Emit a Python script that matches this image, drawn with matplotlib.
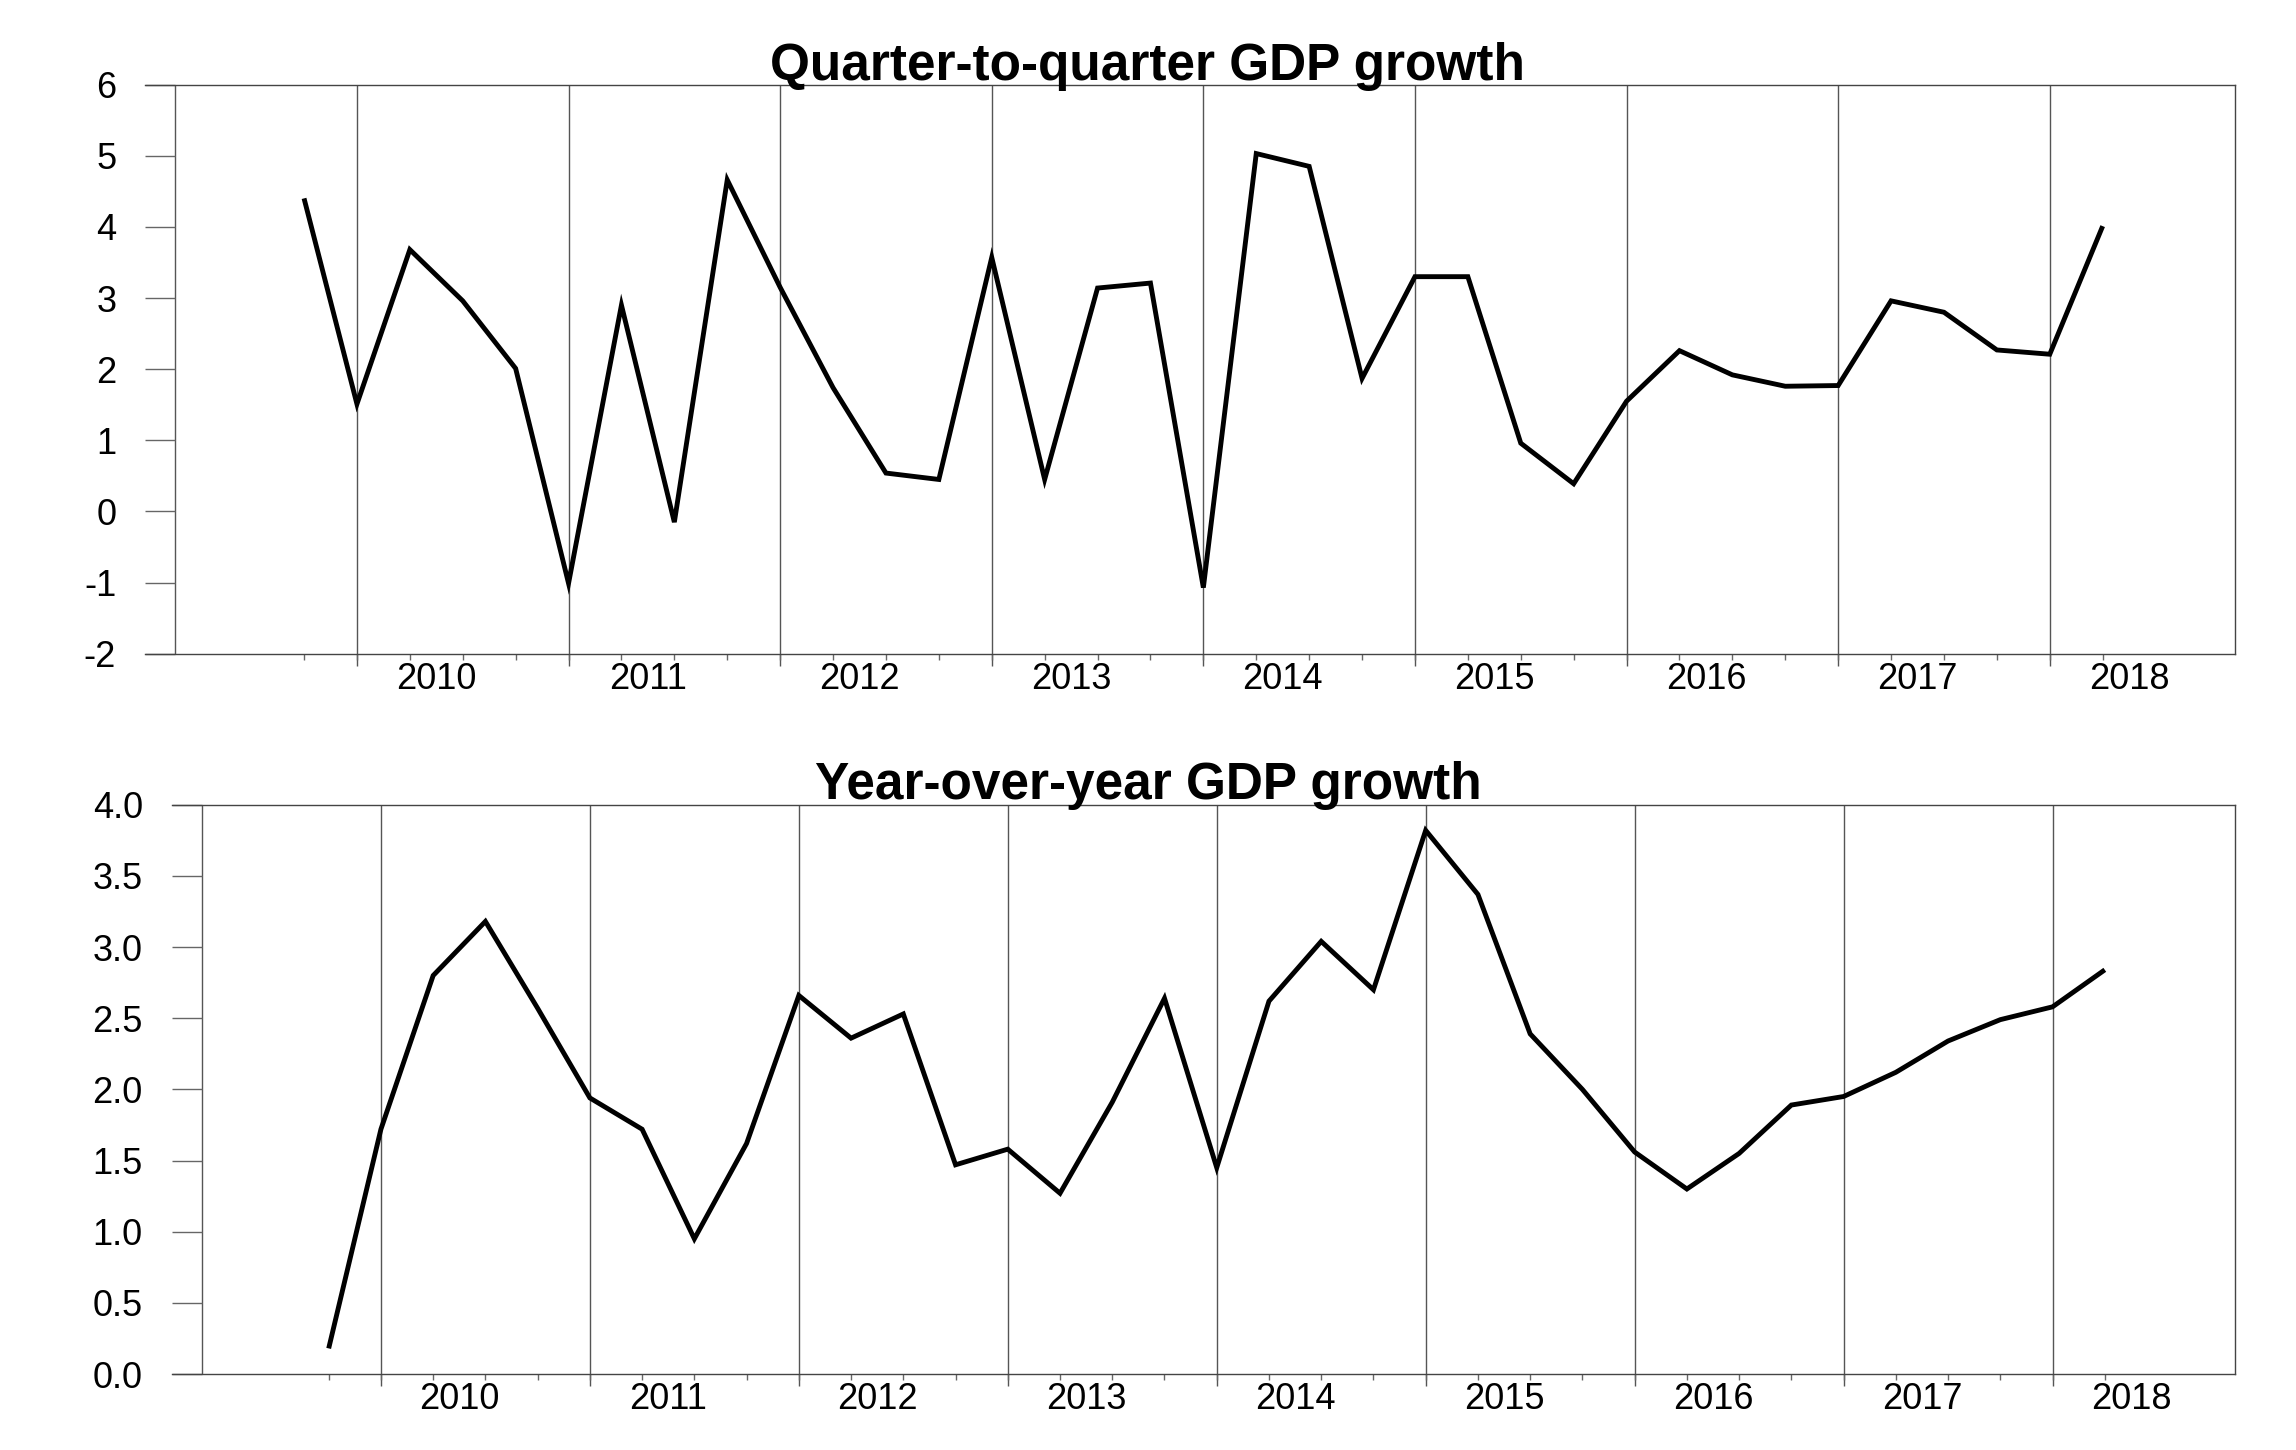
import numpy as np
import matplotlib
matplotlib.use('Agg')
import matplotlib.pyplot as plt
import matplotlib.transforms as mtransforms

plt.rcParams['font.family'] = ['Liberation Sans', 'DejaVu Sans']
plt.rcParams['axes.unicode_minus'] = False

# Quarterly observations, 2009Q4 .. 2018Q2
quarters = ['2009Q4',
            '2010Q1', '2010Q2', '2010Q3', '2010Q4',
            '2011Q1', '2011Q2', '2011Q3', '2011Q4',
            '2012Q1', '2012Q2', '2012Q3', '2012Q4',
            '2013Q1', '2013Q2', '2013Q3', '2013Q4',
            '2014Q1', '2014Q2', '2014Q3', '2014Q4',
            '2015Q1', '2015Q2', '2015Q3', '2015Q4',
            '2016Q1', '2016Q2', '2016Q3', '2016Q4',
            '2017Q1', '2017Q2', '2017Q3', '2017Q4',
            '2018Q1', '2018Q2']

qoq_growth = [4.40, 1.51, 3.68, 2.96, 2.01, -1.01, 2.90, -0.15, 4.66, 3.15,
              1.74, 0.54, 0.45, 3.57, 0.45, 3.14, 3.21, -1.07, 5.03, 4.85,
              1.87, 3.30, 3.30, 0.96, 0.39, 1.55, 2.26, 1.92, 1.76, 1.77,
              2.96, 2.80, 2.27, 2.21, 4.01]

yoy_growth = [0.18, 1.72, 2.80, 3.18, 2.57, 1.94, 1.72, 0.95, 1.62, 2.66,
              2.36, 2.53, 1.47, 1.58, 1.27, 1.91, 2.64, 1.45, 2.62, 3.04,
              2.70, 3.82, 3.37, 2.39, 2.00, 1.56, 1.30, 1.55, 1.89, 1.95,
              2.12, 2.34, 2.49, 2.58, 2.84]

years = ['2010', '2011', '2012', '2013', '2014', '2015', '2016', '2017', '2018']

x = np.arange(len(quarters))
q1_pos = [i for i, q in enumerate(quarters) if q.endswith('Q1')]
label_pos = [p + 1.5 for p in q1_pos]

fig = plt.figure(figsize=(22.96, 14.5), dpi=100)
ax1 = fig.add_axes([0.0633, 0.5491, 0.9101, 0.3926])
ax2 = fig.add_axes([0.0749, 0.0524, 0.8987, 0.3926])

panels = [
    (ax1, qoq_growth, (-2, 6), np.arange(-2, 7, 1), '%d'),
    (ax2, yoy_growth, (0, 4), np.arange(0, 4.01, 0.5), '%.1f'),
]

for ax, vals, ylim, yt, fmt in panels:
    ax.plot(x, vals, color='black', lw=3.5, solid_joinstyle='miter',
            solid_capstyle='butt', zorder=3)
    ax.set_xlim(-3, 36.5)
    ax.set_ylim(*ylim)

    for s in ['top', 'bottom', 'right']:
        ax.spines[s].set_color('#444444')
        ax.spines[s].set_linewidth(1.0)
    ax.spines['left'].set_visible(False)

    # year boundary lines, running a bit below the axis
    trans = mtransforms.blended_transform_factory(ax.transData, ax.transAxes)
    ax.vlines(q1_pos, -0.021, 1, transform=trans, color='#555555', lw=1.0,
              clip_on=False, zorder=1)
    ax.axvline(-2.43, color='#555555', lw=1.0, zorder=1)

    ax.set_yticks(yt)
    ax.set_yticklabels([fmt % v for v in yt])
    ax.tick_params(axis='y', direction='in', length=21.6, width=1.0,
                   color='#666666', labelsize=26, pad=21, left=True, right=False)

    ax.set_xticks(label_pos)
    ax.set_xticklabels(years)
    ax.set_xticks(x, minor=True)
    ax.tick_params(axis='x', which='major', length=0, labelsize=26, pad=6)
    ax.tick_params(axis='x', which='minor', direction='out', length=4.3,
                   width=1.0, color='#666666')

fig.text(0.5, 1 - 80 / 1450, 'Quarter-to-quarter GDP growth', ha='center',
         va='baseline', fontsize=37, fontweight='bold')
fig.text(0.5, 1 - 799 / 1450, 'Year-over-year GDP growth', ha='center',
         va='baseline', fontsize=37, fontweight='bold')

fig.savefig('out.png', dpi=100)
